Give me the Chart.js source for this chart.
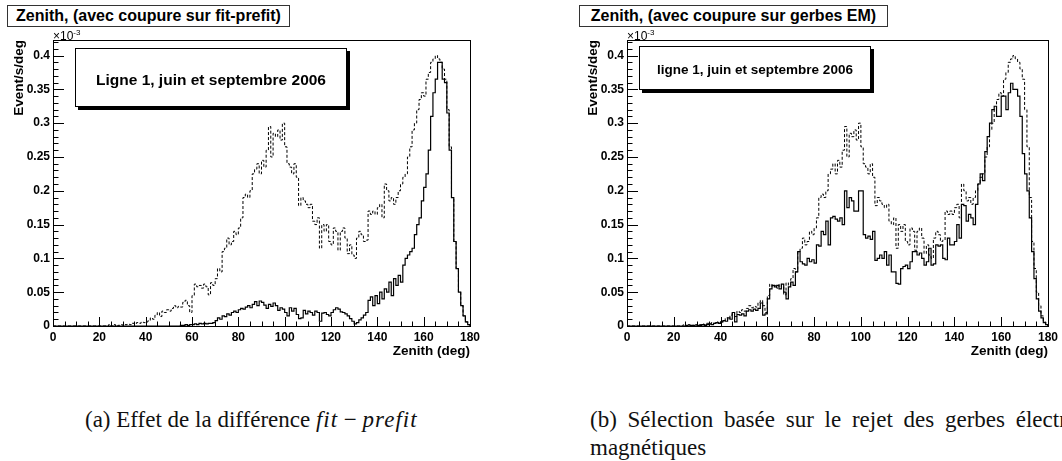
<!DOCTYPE html>
<html>
<head>
<meta charset="utf-8">
<script src="https://cdn.jsdelivr.net/npm/chart.js@4.4.0/dist/chart.umd.min.js"></script>
<style>
  body { margin:0; width:1062px; height:461px; overflow:hidden; background:#fff; position:relative; font-family:"Liberation Sans", Arial, sans-serif; color:#000; }
  canvas { position:absolute; top:0; }
  .titlebox { position:absolute; top:5px; height:22px; box-sizing:border-box; border:1px solid #333; font-weight:bold; font-size:16px; line-height:20px; text-align:center; background:#fff; white-space:nowrap; }
  .pave { position:absolute; box-sizing:border-box; border:1px solid #000; box-shadow:3px 3px 0 #000; background:#fff; font-weight:bold; display:flex; align-items:center; justify-content:center; white-space:nowrap; }
  .mult { position:absolute; top:28px; font-size:12px; }
  .mult sup { font-size:8px; }
  .caption { position:absolute; font-family:"Liberation Serif", "Times New Roman", serif; font-size:23px; line-height:28px; white-space:nowrap; color:#111; }
  .caption i { letter-spacing:1px; }
</style>
</head>
<body>
<canvas id="h1" width="500" height="370" style="left:0"></canvas>
<canvas id="h2" width="488" height="370" style="left:574px"></canvas>

<div class="titlebox" style="left:7px;width:283px">Zenith, (avec coupure sur fit-prefit)</div>
<div class="titlebox" style="left:579px;width:309px">Zenith, (avec coupure sur gerbes EM)</div>

<div class="pave" style="left:75px;top:48px;width:272px;height:59px;font-size:15.5px;padding-top:4px">Ligne 1, juin et septembre 2006</div>
<div class="pave" style="left:639px;top:46px;width:232px;height:44px;font-size:13.5px;padding-top:2px">ligne 1, juin et septembre 2006</div>

<div class="mult" style="left:53px">×10<sup>-3</sup></div>
<div class="mult" style="left:627px">×10<sup>-3</sup></div>

<div class="caption" style="left:85px;top:406px">(a) Effet de la différence <i>fit</i> − <i>prefit</i></div>
<div class="caption" style="left:590px;top:406px"><span style="word-spacing:5px">(b) Sélection basée sur le rejet des gerbes électro-</span><br>magnétiques</div>

<script>
// zenith histograms, 1 deg bins from 0 to 180, values in 1e-3 Event/s/deg
const xMin = 0;
const binWidth = 1;

// sans coupure (dashed, same in both panels)
const dashedAll = [
  0,0,0,0,0,0,0,0,0,0,
  0,0,0,0,0,0,0,0,0,0,
  0,0,0,0,0.002,0,0.002,0,0.001,0.002,
  0.001,0.002,0.003,0.002,0.004,0.003,0.005,0.004,0.006,0.005,
  0.006,0.008,0.012,0.010,0.016,0.020,0.014,0.022,0.020,0.024,
  0.022,0.026,0.030,0.027,0.029,0.028,0.035,0.038,0.030,0.020,
  0.045,0.062,0.058,0.060,0.056,0.062,0.058,0.046,0.064,0.060,
  0.070,0.085,0.080,0.110,0.115,0.130,0.120,0.125,0.140,0.135,
  0.145,0.160,0.190,0.195,0.190,0.200,0.225,0.232,0.240,0.225,
  0.245,0.235,0.260,0.295,0.250,0.285,0.280,0.290,0.275,0.300,
  0.265,0.240,0.235,0.225,0.240,0.220,0.178,0.190,0.185,0.180,
  0.175,0.180,0.155,0.150,0.160,0.115,0.150,0.140,0.150,0.125,
  0.120,0.145,0.140,0.112,0.140,0.145,0.130,0.107,0.120,0.105,
  0.100,0.130,0.140,0.135,0.125,0.127,0.170,0.165,0.170,0.165,
  0.175,0.180,0.160,0.210,0.200,0.185,0.190,0.180,0.190,0.200,
  0.210,0.220,0.225,0.250,0.265,0.290,0.300,0.320,0.335,0.345,
  0.340,0.365,0.375,0.390,0.395,0.400,0.395,0.390,0.380,0.365,
  0.320,0.265,0.190,0.125,0.085,0.050,0.030,0.015,0.006,0.002
];

// coupure fit-prefit (solid, left)
const solidFitPrefit = [
  0,0,0,0,0,0,0,0,0,0,
  0,0,0,0,0,0,0,0,0,0,
  0,0,0,0,0,0,0,0,0,0,
  0,0,0,0,0,0,0,0,0,0,
  0,0,0,0,0,0,0,0,0,0,
  0,0,0,0,0,0.001,0.001,0.002,0.001,0.002,
  0.002,0.003,0.002,0.004,0.003,0.004,0.003,0.004,0.004,0.005,
  0.008,0.012,0.010,0.015,0.014,0.018,0.016,0.020,0.022,0.020,
  0.024,0.026,0.025,0.028,0.030,0.027,0.032,0.036,0.030,0.037,
  0.035,0.031,0.026,0.032,0.029,0.034,0.030,0.023,0.027,0.025,
  0.020,0.015,0.027,0.022,0.026,0.017,0.011,0.012,0.023,0.018,
  0.022,0.020,0.016,0.022,0.020,0.007,0.019,0.020,0.017,0.015,
  0.020,0.024,0.027,0.025,0.021,0.020,0.018,0.015,0.011,0.007,
  0.003,0.005,0.009,0.012,0.016,0.020,0.038,0.043,0.030,0.045,
  0.033,0.050,0.040,0.055,0.050,0.065,0.045,0.070,0.060,0.075,
  0.065,0.090,0.100,0.105,0.110,0.115,0.135,0.150,0.160,0.185,
  0.205,0.225,0.260,0.310,0.345,0.365,0.390,0.390,0.365,0.360,
  0.315,0.260,0.190,0.125,0.085,0.050,0.030,0.015,0.006,0.002
];

// coupure gerbes EM (solid, right)
const solidGerbesEM = [
  0,0,0,0,0,0,0,0,0,0,
  0,0,0,0,0,0,0,0,0,0,
  0,0,0,0,0,0.001,0,0.001,0.001,0,
  0.001,0.001,0.002,0.001,0.002,0.003,0.002,0.004,0.005,0.004,
  0.006,0.008,0.007,0.012,0.010,0.020,0.006,0.017,0.016,0.018,
  0.015,0.022,0.024,0.022,0.025,0.023,0.026,0.034,0.016,0.018,
  0.040,0.055,0.060,0.058,0.060,0.055,0.062,0.050,0.040,0.058,
  0.065,0.060,0.080,0.110,0.095,0.092,0.090,0.100,0.095,0.098,
  0.093,0.120,0.118,0.140,0.135,0.155,0.120,0.160,0.162,0.158,
  0.155,0.160,0.150,0.200,0.175,0.190,0.185,0.170,0.170,0.200,
  0.200,0.135,0.130,0.133,0.128,0.140,0.097,0.100,0.105,0.100,
  0.110,0.090,0.105,0.080,0.080,0.063,0.062,0.085,0.088,0.090,
  0.085,0.095,0.110,0.110,0.105,0.108,0.100,0.090,0.095,0.115,
  0.090,0.092,0.120,0.118,0.120,0.100,0.098,0.130,0.120,0.120,
  0.125,0.150,0.130,0.180,0.178,0.155,0.165,0.160,0.150,0.180,
  0.210,0.225,0.215,0.258,0.280,0.300,0.320,0.325,0.310,0.310,
  0.340,0.340,0.320,0.345,0.359,0.350,0.350,0.340,0.310,0.255,
  0.225,0.200,0.160,0.110,0.070,0.040,0.022,0.012,0.005,0.002
];

const xTickStep = 20;
const yTickStep = 0.05;
const yMax = 0.423;

const FONT = '"Liberation Sans", Arial, sans-serif';

// histogram outline: one point per bin low edge, closed at the upper edge
function steps(values) {
  const pts = values.map((v, i) => ({x: xMin + i * binWidth, y: v}));
  pts.push({x: xMin + values.length * binWidth, y: 0});
  return pts;
}

// ROOT style frame with inward ticks
const rootFrame = {
  id: 'rootFrame',
  afterDatasetsDraw(chart) {
    const {ctx, chartArea: a, scales: {x, y}} = chart;
    ctx.save();
    ctx.strokeStyle = '#000';
    ctx.lineWidth = 1;
    ctx.beginPath();
    for (let k = 0; k * 0.01 <= y.max + 1e-9; k++) {
      const py = Math.round(y.getPixelForValue(k * 0.01)) + 0.5;
      const len = k % 5 === 0 ? 11 : 5.5;
      ctx.moveTo(a.left, py);
      ctx.lineTo(a.left + len, py);
    }
    for (let d = 0; d <= 180; d += 5) {
      const px = Math.round(x.getPixelForValue(d)) + 0.5;
      const len = d % 20 === 0 ? 9 : 4.5;
      ctx.moveTo(px, a.bottom);
      ctx.lineTo(px, a.bottom - len);
    }
    ctx.stroke();
    ctx.strokeRect(Math.round(a.left) + 0.5, Math.round(a.top) + 0.5,
                   Math.round(a.width), Math.round(a.height));
    ctx.restore();
  }
};

function makeHist(id, solid, padRight) {
  return new Chart(document.getElementById(id), {
    type: 'line',
    data: {
      datasets: [{
        data: steps(solid),
        borderColor: '#000',
        borderWidth: 1.2,
        stepped: true
      }, {
        data: steps(dashedAll),
        borderColor: '#000',
        borderWidth: 1,
        borderDash: [3, 2],
        stepped: true
      }]
    },
    options: {
      responsive: false,
      animation: false,
      devicePixelRatio: 1,
      layout: {padding: {left: 0, top: 40, right: padRight, bottom: 0}},
      elements: {point: {radius: 0}},
      plugins: {legend: {display: false}, tooltip: {enabled: false}},
      scales: {
        x: {
          type: 'linear', min: 0, max: 180,
          grid: {display: false, drawTicks: false},
          border: {display: false},
          ticks: {stepSize: xTickStep, autoSkip: false, maxRotation: 0, padding: 4,
                  color: '#000', font: {family: FONT, size: 12, weight: 'bold'}},
          title: {display: true, text: 'Zenith (deg)', align: 'end', color: '#000',
                  padding: {top: 0, bottom: 11}, font: {family: FONT, size: 13.5, weight: 'bold'}},
          afterFit(s) { s.height = 44; }
        },
        y: {
          type: 'linear', min: 0, max: yMax,
          grid: {display: false, drawTicks: false},
          border: {display: false},
          ticks: {stepSize: yTickStep, includeBounds: false, padding: 3,
                  callback: v => String(+v.toFixed(2)),
                  color: '#000', font: {family: FONT, size: 12, weight: 'bold'}},
          title: {display: true, text: 'Event/s/deg', align: 'end', color: '#000',
                  padding: {top: 11, bottom: 0}, font: {family: FONT, size: 13.5, weight: 'bold'}},
          afterFit(s) { s.width = 53; }
        }
      }
    },
    plugins: [rootFrame]
  });
}

makeHist('h1', solidFitPrefit, 30);
makeHist('h2', solidGerbesEM, 12);
</script>
</body>
</html>
